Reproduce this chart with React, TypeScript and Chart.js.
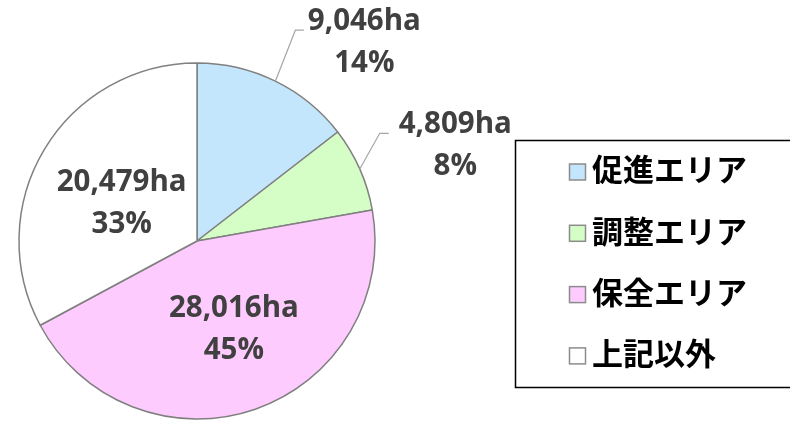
import { useEffect, useRef } from "react";
import { Chart, registerables } from "chart.js";

Chart.register(...registerables);

// Land area by zone (ha), drawn clockwise from 12 o'clock
const CATEGORIES = ["促進エリア", "調整エリア", "保全エリア", "上記以外"];
const AREA_HA = [9046, 4809, 28016, 20479];
const SHARE_PCT = [14, 8, 45, 33];
const SLICE_COLORS = ["#C3E6FC", "#D5FEC6", "#FECBFE", "#FFFFFF"];

// Where each slice's value label goes
type Placement =
  | { kind: "outside"; elbowDx: number; elbowDy: number; tail: number; gap: number }
  | { kind: "inside"; dist: number; dx: number; dy: number };

const LABEL_LAYOUT: Placement[] = [
  { kind: "outside", elbowDx: 20, elbowDy: -51, tail: 8.5, gap: 4 },
  { kind: "outside", elbowDx: 20, elbowDy: -35.6, tail: 9, gap: 10 },
  { kind: "inside", dist: 0.53, dx: 6, dy: -3 },
  { kind: "inside", dist: 0.48, dx: -2, dy: 4 },
];

const LABEL_FONT = "bold 29.5px 'Open Sans', 'DejaVu Sans', sans-serif";
const LABEL_COLOR = "#404040";
const LINE_GAP = 42;
const LEGEND_FONT = "bold 31px 'Noto Sans CJK JP', sans-serif";

const sliceLabels = {
  id: "sliceLabels",
  afterDatasetsDraw(chart: any) {
    const ctx: CanvasRenderingContext2D = chart.ctx;
    const meta = chart.getDatasetMeta(0);
    ctx.save();
    ctx.font = LABEL_FONT;
    ctx.fillStyle = LABEL_COLOR;
    ctx.textAlign = "center";
    ctx.textBaseline = "alphabetic";
    meta.data.forEach((arc: any, i: number) => {
      const { x, y, startAngle, endAngle, outerRadius } = arc.getProps(
        ["x", "y", "startAngle", "endAngle", "outerRadius"],
        true
      );
      const mid = (startAngle + endAngle) / 2;
      const line1 = `${AREA_HA[i].toLocaleString("en-US")}ha`;
      const line2 = `${SHARE_PCT[i]}%`;
      const p = LABEL_LAYOUT[i];
      if (p.kind === "inside") {
        const cx = x + Math.cos(mid) * outerRadius * p.dist + p.dx;
        const cy = y + Math.sin(mid) * outerRadius * p.dist + p.dy;
        ctx.fillText(line1, cx, cy - 10.5);
        ctx.fillText(line2, cx, cy - 10.5 + LINE_GAP);
      } else {
        const ax = x + Math.cos(mid) * outerRadius;
        const ay = y + Math.sin(mid) * outerRadius;
        const ex = ax + p.elbowDx;
        const ey = ay + p.elbowDy;
        const tx = ex + p.tail;
        ctx.beginPath();
        ctx.moveTo(ax, ay);
        ctx.lineTo(ex, ey);
        ctx.lineTo(tx, ey);
        ctx.strokeStyle = "#A6A6A6";
        ctx.lineWidth = 1.2;
        ctx.stroke();
        const w = ctx.measureText(line1).width;
        const cx = tx + p.gap + w / 2;
        ctx.fillText(line1, cx, ey);
        ctx.fillText(line2, cx, ey + LINE_GAP);
      }
    });
    ctx.restore();
  },
};

const boxedLegend = {
  id: "boxedLegend",
  afterDraw(chart: any) {
    const ctx: CanvasRenderingContext2D = chart.ctx;
    const ds = chart.data.datasets[0];
    const labels: string[] = chart.data.labels;
    ctx.save();
    ctx.strokeStyle = "#000000";
    ctx.lineWidth = 1.5;
    // box runs off the right edge of the canvas
    ctx.strokeRect(515.5, 140.5, 290, 247);
    ctx.font = LEGEND_FONT;
    ctx.textAlign = "left";
    ctx.textBaseline = "middle";
    labels.forEach((label, i) => {
      const cy = 172 + i * 61.3;
      ctx.fillStyle = ds.backgroundColor[i];
      ctx.fillRect(569.5, cy - 8, 16, 16);
      ctx.strokeStyle = "#8C8C8C";
      ctx.lineWidth = 1.5;
      ctx.strokeRect(569.5, cy - 8, 16, 16);
      ctx.fillStyle = "#000000";
      ctx.fillText(label, 592, cy - 2.5);
    });
    ctx.restore();
  },
};

export default function App() {
  const ref = useRef<HTMLCanvasElement>(null);

  useEffect(() => {
    if (!ref.current) return;
    const chart = new Chart(ref.current, {
      type: "pie",
      data: {
        labels: CATEGORIES,
        datasets: [
          {
            data: AREA_HA,
            backgroundColor: SLICE_COLORS,
            borderColor: "#808080",
            borderWidth: 1.5,
          },
        ],
      },
      options: {
        animation: false,
        responsive: false,
        devicePixelRatio: 1,
        events: [],
        layout: { padding: { left: 18.25, top: 62.25, right: 414.25, bottom: 1.25 } },
        plugins: {
          legend: { display: false },
          tooltip: { enabled: false },
        },
      },
      plugins: [sliceLabels, boxedLegend],
    });
    return () => chart.destroy();
  }, []);

  return (
    <div style={{ position: "fixed", left: 0, top: 0, width: 790, height: 421, background: "#ffffff" }}>
      <canvas ref={ref} width={790} height={421} style={{ display: "block" }} />
    </div>
  );
}
